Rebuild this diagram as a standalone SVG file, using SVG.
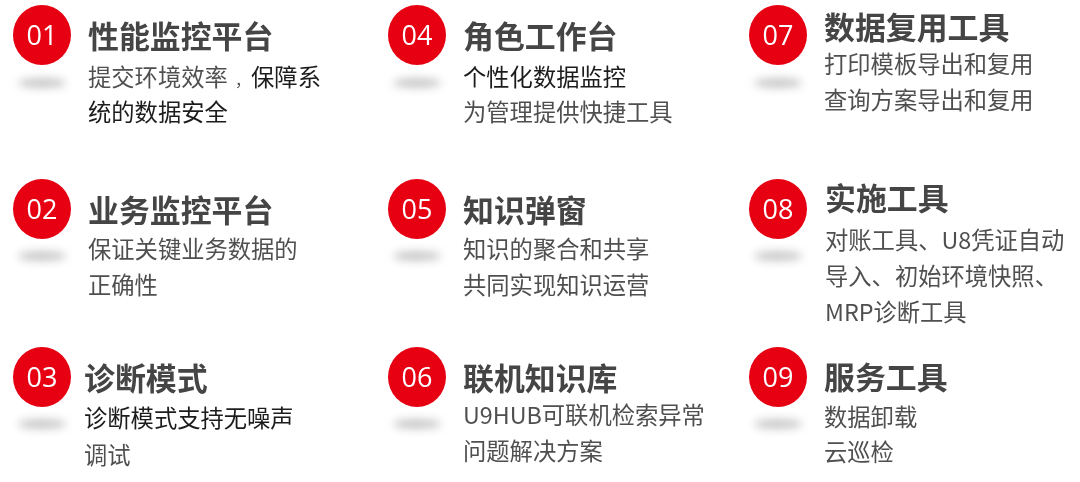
<svg xmlns="http://www.w3.org/2000/svg" width="1080" height="482" viewBox="0 0 1080 482">
<defs>
<filter id="soft" x="-5%" y="-5%" width="110%" height="110%"><feGaussianBlur stdDeviation="0.35"/></filter>
<filter id="bl" x="-30%" y="-80%" width="160%" height="260%"><feGaussianBlur stdDeviation="4"/></filter>
</defs>
<style>
.c{fill:#e60012}
.s{fill:#c8c8c8;filter:url(#bl)}
.n{font:27px "Open Sans","Liberation Sans",sans-serif;fill:#fff;text-anchor:middle}
.h{font:bold 30.9px "Noto Sans CJK SC",sans-serif;fill:#444}
.b{font:23.3px "Noto Sans CJK SC",sans-serif;fill:#505050;transform:translateY(0.5px)}
.k{fill:#1a1a1a}
.m{font-size:16.3px}
text{filter:url(#soft)}
</style>
<rect width="1080" height="482" fill="#fff"/>
<g id="n01"><ellipse class="s" cx="42" cy="83" rx="24" ry="5"/><ellipse class="c" cx="42" cy="35" rx="29" ry="30"/><text class="n" x="42" y="45">01</text><text class="h" x="88" y="48">性能监控平台</text><text class="b" x="88" y="85">提交环境效率<tspan class="m" dx="7">，</tspan><tspan class="k">保障系</tspan></text><text class="b k" x="88" y="120">统的数据安全</text></g>
<g id="n02"><ellipse class="s" cx="42" cy="256" rx="24" ry="5"/><ellipse class="c" cx="42" cy="209" rx="29" ry="30"/><text class="n" x="42" y="219">02</text><text class="h" x="88" y="222">业务监控平台</text><text class="b" x="88" y="257">保证关键业务数据的</text><text class="b" x="88" y="293">正确性</text></g>
<g id="n03"><ellipse class="s" cx="42" cy="424" rx="24" ry="5"/><ellipse class="c" cx="42" cy="377" rx="29" ry="30"/><text class="n" x="42" y="387">03</text><text class="h" x="84" y="390">诊断模式</text><text class="b k" x="84" y="426">诊断模式支持无噪声</text><text class="b" x="84" y="463">调试</text></g>
<g id="n04"><ellipse class="s" cx="417" cy="83" rx="24" ry="5"/><ellipse class="c" cx="417" cy="35" rx="29" ry="30"/><text class="n" x="417" y="45">04</text><text class="h" x="463" y="48">角色工作台</text><text class="b k" x="463" y="85">个性化数据监控</text><text class="b" x="463" y="120">为管理提供快捷工具</text></g>
<g id="n05"><ellipse class="s" cx="417" cy="256" rx="24" ry="5"/><ellipse class="c" cx="417" cy="209" rx="29" ry="30"/><text class="n" x="417" y="219">05</text><text class="h" x="463" y="222">知识弹窗</text><text class="b" x="463" y="257">知识的聚合和共享</text><text class="b" x="463" y="293">共同实现知识运营</text></g>
<g id="n06"><ellipse class="s" cx="417" cy="424" rx="24" ry="5"/><ellipse class="c" cx="417" cy="377" rx="29" ry="30"/><text class="n" x="417" y="387">06</text><text class="h" x="463" y="390">联机知识库</text><text class="b" x="463" y="423">U9HUB可联机检索异常</text><text class="b" x="463" y="459">问题解决方案</text></g>
<g id="n07"><ellipse class="s" cx="778" cy="83" rx="24" ry="5"/><ellipse class="c" cx="778" cy="35" rx="29" ry="30"/><text class="n" x="778" y="45">07</text><text class="h" x="824" y="39">数据复用工具</text><text class="b" x="824" y="72">打印模板导出和复用</text><text class="b" x="824" y="108">查询方案导出和复用</text></g>
<g id="n08"><ellipse class="s" cx="778" cy="256" rx="24" ry="5"/><ellipse class="c" cx="778" cy="209" rx="29" ry="30"/><text class="n" x="778" y="219">08</text><text class="h" x="825" y="210">实施工具</text><text class="b" x="825" y="248">对账工具、U8凭证自动</text><text class="b" x="825" y="284">导入、初始环境快照、</text><text class="b" x="825" y="320">MRP诊断工具</text></g>
<g id="n09"><ellipse class="s" cx="778" cy="424" rx="24" ry="5"/><ellipse class="c" cx="778" cy="377" rx="29" ry="30"/><text class="n" x="778" y="387">09</text><text class="h" x="824" y="389">服务工具</text><text class="b" x="824" y="425">数据卸载</text><text class="b" x="824" y="460">云巡检</text></g>
<g id="connectors"></g>
</svg>
